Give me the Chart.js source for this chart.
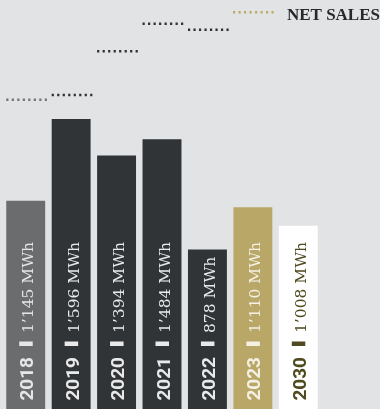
<!DOCTYPE html>
<html lang="en">
<head>
    <meta charset="UTF-8">
    <title>Energy and net sales</title>
    <script src="https://cdn.jsdelivr.net/npm/chart.js"></script>
    <style>
        html, body {
            margin: 0;
            padding: 0;
            background: #e2e3e5;
        }
        #chart {
            display: block;
        }
    </style>
</head>
<body>
    <canvas id="chart" width="380" height="409"></canvas>
    <script>
        // Energy per year (MWh) and net sales index per year
        var years = ['2018', '2019', '2020', '2021', '2022', '2023', '2030'];
        var energyMWh = [1145, 1596, 1394, 1484, 878, 1110, 1008];
        var netSales = [75.6, 76.8, 87.5, 94.2, 92.7, null, null];

        // Colours
        var barColors = ['#6a6c6e', '#313437', '#313437', '#313437', '#313437', '#b9a768', '#ffffff'];
        var textColors = ['#e6e6e6', '#e9e9e9', '#e9e9e9', '#e9e9e9', '#e9e9e9', '#f4f0e4', '#4f4a1f'];
        var dotColors = ['#727478', '#2e3134', '#2e3134', '#2e3134', '#2e3134', '#2e3134', '#2e3134'];
        var legendColor = '#bca96a';

        // 1145 -> "1’145 MWh"
        function fmt(v) {
            var s = String(v);
            if (s.length > 3) s = s.slice(0, s.length - 3) + '\u2019' + s.slice(-3);
            return s + ' MWh';
        }

        var barLabels = {
            id: 'barLabels',
            afterDatasetsDraw: function(chart) {
                var ctx = chart.ctx;
                var bars = chart.getDatasetMeta(0).data;
                var pts = chart.getDatasetMeta(1).data;
                var bottom = chart.chartArea.bottom;

                // net sales: short dotted line over each bar
                bars.forEach(function(bar, i) {
                    if (netSales[i] == null) return;
                    var y = pts[i].y;
                    var left = bar.x - bar.width / 2;
                    ctx.save();
                    ctx.strokeStyle = dotColors[i];
                    ctx.lineWidth = 2.5;
                    ctx.setLineDash([2.2, 3.3]);
                    ctx.beginPath();
                    ctx.moveTo(left, y);
                    ctx.lineTo(left + bar.width + 2, y);
                    ctx.stroke();
                    ctx.restore();
                });

                // vertical labels: year | value
                bars.forEach(function(bar, i) {
                    ctx.save();
                    ctx.translate(bar.x + 7.5, bottom);
                    ctx.rotate(-Math.PI / 2);
                    ctx.fillStyle = textColors[i];
                    ctx.textBaseline = 'alphabetic';

                    ctx.font = 'bold 19px Roboto';
                    ctx.textAlign = 'right';
                    ctx.fillText(years[i], 52, 0);

                    ctx.fillRect(63, -14, 4.5, 13.5);

                    ctx.font = '15.5px "DejaVu Serif"';
                    ctx.textAlign = 'left';
                    ctx.fillText(fmt(energyMWh[i]), 76, 0);
                    ctx.restore();
                });

                // legend
                ctx.save();
                ctx.strokeStyle = legendColor;
                ctx.lineWidth = 2.5;
                ctx.setLineDash([2.2, 3.3]);
                ctx.beginPath();
                ctx.moveTo(233, 12.3);
                ctx.lineTo(276, 12.3);
                ctx.stroke();
                ctx.setLineDash([]);
                ctx.fillStyle = '#27282a';
                ctx.font = 'bold 17px "Liberation Serif"';
                ctx.textAlign = 'right';
                ctx.textBaseline = 'alphabetic';
                ctx.fillText(chart.data.datasets[1].label, 380, 19.5);
                ctx.restore();
            }
        };

        new Chart(document.getElementById('chart'), {
            type: 'bar',
            data: {
                labels: years,
                datasets: [{
                    label: 'Energy',
                    data: energyMWh,
                    backgroundColor: barColors,
                    borderWidth: 0,
                    barPercentage: 0.857,
                    categoryPercentage: 1,
                    yAxisID: 'y'
                }, {
                    type: 'line',
                    label: 'NET SALES',
                    data: netSales,
                    yAxisID: 'y1',
                    showLine: false,
                    pointRadius: 0
                }]
            },
            options: {
                responsive: false,
                animation: false,
                layout: { padding: { left: 3, right: 59, top: 0, bottom: 0 } },
                scales: {
                    x: { display: false },
                    y: { display: false, min: 0, max: 2250 },
                    y1: { display: false, min: 0, max: 100 }
                },
                plugins: {
                    legend: { display: false },
                    tooltip: { enabled: false }
                }
            },
            plugins: [barLabels]
        });
    </script>
</body>
</html>
